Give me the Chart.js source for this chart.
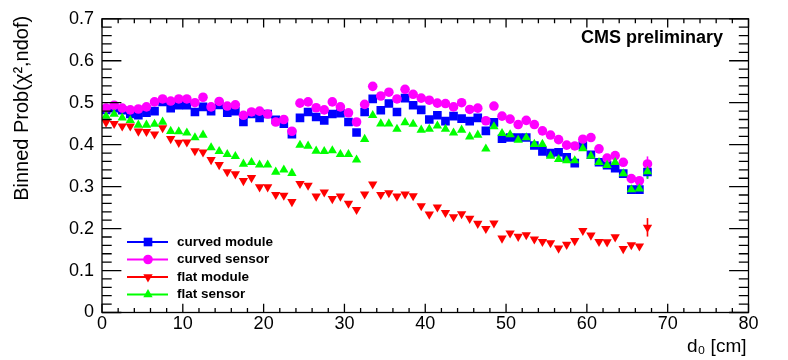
<!DOCTYPE html>
<html>
<head>
<meta charset="utf-8">
<script src="https://cdn.jsdelivr.net/npm/chart.js@4/dist/chart.umd.min.js"></script>
<style>
html,body{margin:0;padding:0;background:#fff;}
#wrap{width:788px;height:360px;}
</style>
</head>
<body>
<div id="wrap"><canvas id="c" width="788" height="360"></canvas></div>
<script>
// bin centres (d0 in cm)
const binCenters = [0.5,1.5,2.5,3.5,4.5,5.5,6.5,7.5,8.5,9.5,10.5,11.5,12.5,13.5,14.5,15.5,16.5,17.5,18.5,19.5,
  20.5,21.5,22.5,23.5,24.5,25.5,26.5,27.5,28.5,29.5,30.5,31.5,32.5,33.5,34.5,35.5,36.5,37.5,38.5,39.5,
  40.5,41.5,42.5,43.5,44.5,45.5,46.5,47.5,48.5,49.5,50.5,51.5,52.5,53.5,54.5,55.5,56.5,57.5,58.5,59.5,
  60.5,61.5,62.5,63.5,64.5,65.5,66.5,67.5];

const curvedModule = [0.483,0.487,0.482,0.473,0.470,0.476,0.480,0.502,0.487,0.494,0.494,0.478,0.490,0.480,0.495,0.476,0.480,0.454,0.473,0.464,
  0.473,0.459,0.450,0.425,0.464,0.478,0.466,0.458,0.473,0.475,0.454,0.429,0.478,0.509,0.482,0.498,0.478,0.511,0.494,0.483,
  0.460,0.470,0.456,0.468,0.462,0.456,0.464,0.433,0.453,0.414,0.417,0.417,0.417,0.398,0.384,0.380,0.382,0.370,0.356,0.398,
  0.376,0.358,0.351,0.344,0.331,0.293,0.293,0.335];

const curvedSensor = [0.487,0.494,0.487,0.483,0.485,0.490,0.502,0.509,0.504,0.509,0.509,0.500,0.513,0.490,0.503,0.492,0.495,0.470,0.478,0.480,
  0.473,0.454,0.460,0.432,0.499,0.502,0.488,0.483,0.502,0.490,0.476,0.454,0.496,0.539,0.516,0.525,0.509,0.532,0.520,0.511,
  0.506,0.499,0.498,0.490,0.500,0.484,0.487,0.457,0.492,0.468,0.461,0.448,0.458,0.448,0.433,0.423,0.412,0.399,0.397,0.413,
  0.417,0.390,0.368,0.374,0.358,0.319,0.314,0.354];

const flatModule = [0.453,0.450,0.444,0.444,0.432,0.431,0.425,0.440,0.414,0.405,0.406,0.385,0.382,0.364,0.352,0.335,0.330,0.314,0.321,0.299,
  0.299,0.281,0.279,0.264,0.307,0.303,0.277,0.287,0.271,0.277,0.260,0.245,0.282,0.306,0.281,0.285,0.277,0.282,0.278,0.254,
  0.234,0.251,0.238,0.228,0.235,0.224,0.212,0.200,0.213,0.177,0.189,0.181,0.185,0.175,0.169,0.166,0.153,0.162,0.171,0.195,
  0.184,0.169,0.168,0.180,0.152,0.161,0.158,0.203];

const flatSensor = [0.468,0.473,0.464,0.458,0.447,0.447,0.449,0.454,0.432,0.431,0.428,0.417,0.423,0.393,0.384,0.377,0.372,0.354,0.358,0.352,
  0.352,0.335,0.340,0.332,0.399,0.397,0.385,0.384,0.386,0.377,0.377,0.364,0.413,0.470,0.450,0.450,0.437,0.453,0.449,0.435,
  0.437,0.445,0.437,0.428,0.435,0.419,0.423,0.390,0.443,0.427,0.424,0.411,0.417,0.401,0.401,0.373,0.365,0.362,0.362,0.391,
  0.373,0.358,0.351,0.358,0.331,0.293,0.295,0.336];

// statistical errors visible only on the last bin
const lastBinErrors = { curvedModule: 0.016, curvedSensor: 0.018, flatModule: 0.022, flatSensor: 0.017 };

const seriesLabels = ['curved module','curved sensor','flat module','flat sensor'];
const xTickValues = [0,10,20,30,40,50,60,70,80];
const yTickValues = [0,0.1,0.2,0.3,0.4,0.5,0.6,0.7];

const FONT = "'Liberation Sans', Arial, Helvetica, sans-serif";

function pts(vals){ return vals.map((v,i)=>({x:binCenters[i], y:v})); }

const datasets = [
  {label:seriesLabels[0], data:pts(curvedModule), errLast:lastBinErrors.curvedModule,
   pointStyle:'rect', pointRadius:6.1, color:'#0000ff', rotation:0, order:4},
  {label:seriesLabels[1], data:pts(curvedSensor), errLast:lastBinErrors.curvedSensor,
   pointStyle:'circle', pointRadius:4.8, color:'#ff00ff', rotation:0, order:3},
  {label:seriesLabels[2], data:pts(flatModule), errLast:lastBinErrors.flatModule,
   pointStyle:'triangle', pointRadius:5.4, color:'#ff0000', rotation:180, order:2},
  {label:seriesLabels[3], data:pts(flatSensor), errLast:lastBinErrors.flatSensor,
   pointStyle:'triangle', pointRadius:5.4, color:'#00ff00', rotation:0, order:1}
].map(d=>({
  label:d.label, data:d.data, errLast:d.errLast, order:d.order,
  showLine:false,
  pointStyle:d.pointStyle, pointRadius:d.pointRadius, pointHoverRadius:d.pointRadius,
  pointRotation:d.rotation,
  backgroundColor:d.color, borderColor:d.color, pointBorderWidth:0,
  pointBackgroundColor:d.color
}));

const frameTicks = {
  id:'frameTicks',
  beforeDatasetsDraw(chart){
    const ctx = chart.ctx, xs = chart.scales.x, ys = chart.scales.y;
    ctx.save();
    chart.data.datasets.slice().sort((a,b)=>b.order-a.order).forEach(ds=>{
      const p = ds.data[ds.data.length-1];
      const px = xs.getPixelForValue(p.x);
      ctx.strokeStyle = ds.borderColor; ctx.lineWidth = 1.6;
      ctx.beginPath();
      ctx.moveTo(px, ys.getPixelForValue(p.y - ds.errLast));
      ctx.lineTo(px, ys.getPixelForValue(p.y + ds.errLast));
      ctx.stroke();
    });
    ctx.restore();
  },
  afterDraw(chart){
    const ctx = chart.ctx, a = chart.chartArea, xs = chart.scales.x, ys = chart.scales.y;
    ctx.save();
    ctx.strokeStyle = '#000'; ctx.lineWidth = 1.3;
    ctx.strokeRect(a.left, a.top, a.right-a.left, a.bottom-a.top);
    const h = a.bottom - a.top, w = a.right - a.left;
    const xMaj = 0.03*h, yMaj = 0.03*w;
    ctx.beginPath();
    for (let v=0; v<=80.001; v+=2){
      const px = xs.getPixelForValue(v);
      const L = (Math.abs(v/10 - Math.round(v/10))<1e-6) ? xMaj : xMaj/2;
      ctx.moveTo(px, a.bottom); ctx.lineTo(px, a.bottom - L);
      ctx.moveTo(px, a.top); ctx.lineTo(px, a.top + L);
    }
    for (let k=0; k<=35; k++){
      const v = k*0.02;
      const py = ys.getPixelForValue(v);
      const L = (k%5===0) ? yMaj : yMaj/2;
      ctx.moveTo(a.left, py); ctx.lineTo(a.left + L, py);
      ctx.moveTo(a.right, py); ctx.lineTo(a.right - L, py);
    }
    ctx.stroke();

    // axis titles
    ctx.fillStyle = '#000';
    ctx.font = "19px " + FONT;
    ctx.textAlign = 'right'; ctx.textBaseline = 'alphabetic';
    ctx.fillText('d\u2080 [cm]', a.right - 2, 352);
    ctx.save();
    ctx.translate(28, a.top - 3);
    ctx.rotate(-Math.PI/2);
    ctx.font = "20px " + FONT;
    ctx.textAlign = 'right';
    ctx.fillText('Binned Prob(\u03C7\u00B2,ndof)', 0, 0);
    ctx.restore();

    // CMS label
    ctx.font = "bold 18px " + FONT;
    ctx.textAlign = 'right'; ctx.textBaseline = 'alphabetic';
    ctx.fillText('CMS preliminary', 723, 43);

    // legend
    const rows = [242, 259.5, 277, 294.5];
    chart.data.datasets.forEach((ds,i)=>{
      const y = rows[i];
      ctx.strokeStyle = ds.borderColor; ctx.lineWidth = 2;
      ctx.beginPath(); ctx.moveTo(127, y); ctx.lineTo(168, y); ctx.stroke();
      ctx.fillStyle = ds.backgroundColor;
      Chart.helpers.drawPoint(ctx, {pointStyle:ds.pointStyle, rotation:ds.pointRotation, radius:ds.pointRadius, borderWidth:0}, 148, y);
      ctx.fillStyle = '#000';
      ctx.font = "bold 13.5px " + FONT;
      ctx.textAlign = 'left'; ctx.textBaseline = 'middle';
      ctx.fillText(ds.label, 177, y);
    });
    ctx.restore();
  }
};

new Chart(document.getElementById('c'), {
  type:'scatter',
  data:{datasets},
  options:{
    responsive:false, animation:false, devicePixelRatio:1,
    layout:{padding:{left:0, right:39.5, top:16, bottom:0}},
    plugins:{legend:{display:false}, tooltip:{enabled:false}},
    scales:{
      x:{type:'linear', min:0, max:80,
         afterFit(s){ s.height = 47.5; },
         afterBuildTicks(s){ s.ticks = xTickValues.map(v=>({value:v})); },
         grid:{display:false, drawTicks:false}, border:{display:false},
         ticks:{color:'#000', padding:1, maxRotation:0, autoSkip:false, font:{family:FONT, size:18}}},
      y:{type:'linear', min:0, max:0.7,
         afterFit(s){ s.width = 102; },
         afterBuildTicks(s){ s.ticks = yTickValues.map(v=>({value:v})); },
         grid:{display:false, drawTicks:false}, border:{display:false},
         ticks:{color:'#000', padding:8, autoSkip:false, font:{family:FONT, size:18},
                callback:(v)=>String(Math.round(v*10)/10)}}
    }
  },
  plugins:[frameTicks]
});
</script>
</body>
</html>
